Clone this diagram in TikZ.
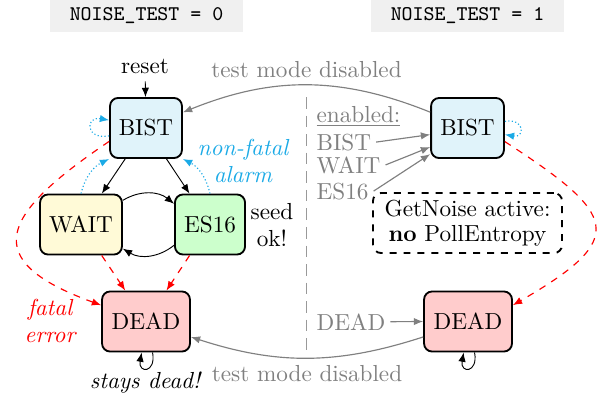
\documentclass[tikz,border=0pt]{standalone}
\usetikzlibrary{arrows.meta}
\definecolor{bistc}{RGB}{224,243,250}
\definecolor{waitc}{RGB}{255,250,215}
\definecolor{esc}{RGB}{204,255,204}
\definecolor{deadc}{RGB}{255,204,204}
\definecolor{alarmc}{RGB}{27,170,230}
\definecolor{hdrc}{RGB}{240,240,240}
\tikzset{
  state/.style={draw=black, line width=0.8pt, rounded corners=3.5pt, minimum height=25.9pt, inner sep=0pt},
  hdr/.style={fill=hdrc, font=\ttfamily\small, minimum width=83.2pt, minimum height=13.8pt, inner sep=0pt},
  arr/.style={-{Latex[length=4pt,width=3.2pt]}},
  alarm/.style={arr, alarmc, densely dotted, line width=0.5pt},
  fatal/.style={arr, red, dashed, line width=0.5pt},
  grayarr/.style={arr, gray, line width=0.5pt},
  graytxt/.style={gray, anchor=base west, inner sep=2pt},
  note/.style={draw=black, dashed, line width=0.8pt, rounded corners=3.5pt, minimum width=81.5pt, minimum height=25.9pt, align=center, inner sep=0pt},
}
\begin{document}
\begin{tikzpicture}[x=0.431pt, y=0.431pt]
\useasboundingbox (0,0) rectangle (603,-396);
% headers
\node[hdr] (h0) at (146.5,-16) {NOISE\_TEST = 0};
\node[hdr] (h1) at (467.5,-16) {NOISE\_TEST = 1};
% left states
\node[state, fill=bistc, minimum width=31pt] (B0) at (146,-128) {BIST};
\node[state, fill=waitc, minimum width=35.3pt] (W) at (81,-224.5) {WAIT};
\node[state, fill=esc, minimum width=30.2pt] (E) at (210,-224.5) {ES16};
\node[state, fill=deadc, minimum width=37.9pt] (D0) at (146,-321.5) {DEAD};
% right states
\node[state, fill=bistc, minimum width=31.4pt] (B1) at (467.5,-128) {BIST};
\node[state, fill=deadc, minimum width=37.9pt] (D1) at (468,-321.5) {DEAD};
\node[note] (N) at (467.5,-223) {GetNoise active:\\[-1pt] \textbf{no} PollEntropy};
% labels
\node (reset) at (145,-66) {reset};
\node[align=center] (seed) at (272,-225) {seed\\ ok!};
\node[align=center, red, font=\itshape] (fatal) at (50,-321) {fatal\\ error};
\node[align=center, alarmc, font=\itshape] (nfa) at (243,-161) {non-fatal\\ alarm};
\node[font=\itshape] (stays) at (145,-383) {stays dead!};
% divider
\coordinate (dtop) at (306,-97);
\coordinate (dbot) at (306,-353);
\draw[gray!80, dash pattern=on 5pt off 3pt, line width=0.4pt] (dtop) -- (dbot);
% gray texts
\node[graytxt] (gen) at (311.5,-122) {\underline{enabled:}};
\node[graytxt] (gB) at (311.5,-150) {BIST};
\node[graytxt] (gW) at (311.5,-173) {WAIT};
\node[graytxt] (gE) at (311.5,-199) {ES16};
\node[graytxt] (gD) at (311.5,-330) {DEAD};
\draw[grayarr] (gB.east) -- (B1.190);
\draw[grayarr] (gW.east) -- (B1.207);
\draw[grayarr] (gE.east) -- (B1.215);
\draw[grayarr] (gD.east) -- (D1.west);
% test mode disabled
\draw[grayarr] (B1.157) to[bend right=22] node[midway, above, inner sep=3pt] (tm1) {test mode disabled} (B0.23);
\draw[grayarr] (D1.199) to[bend left=18] node[midway, below, inner sep=3pt] (tm2) {test mode disabled} (D0.341);
% black transitions
\draw[arr] (reset) -- (B0);
\draw[arr] (B0) -- (W);
\draw[arr] (B0) -- (E);
\draw[arr] (W.30) to[bend left=35] (E.150);
\draw[arr] (E.210) to[bend left=35] (W.330);
\draw[arr] (D0.282) to[out=-80,in=-100,looseness=5] (D0.262);
\draw[arr] (D1.282) to[out=-80,in=-100,looseness=5] (D1.262);
% alarm
\draw[alarm] (W.north) to[bend left=25] (B0.south west);
\draw[alarm] (E.north) to[bend right=25] (B0.south east);
\draw[alarm] (B0.192) to[out=190,in=170,looseness=4] (B0.168);
\draw[alarm] (B1.10) to[out=10,in=-10,looseness=4] (B1.-10);
% fatal
\draw[fatal] (W) -- (D0);
\draw[fatal] (E) -- (D0);
\draw[fatal] (B0.200) to[out=214,in=160,looseness=2.05] (D0.160);
\draw[fatal] (B1.-20) to[out=-33,in=30,looseness=2.1] (D1.20);
\end{tikzpicture}
\end{document}
